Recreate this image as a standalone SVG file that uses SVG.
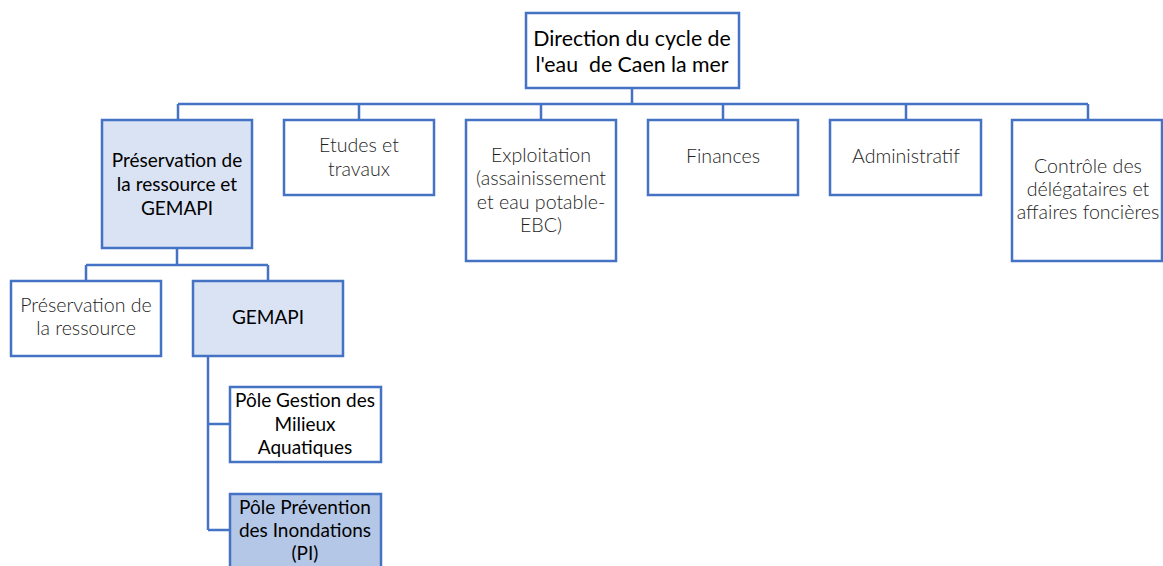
<svg xmlns="http://www.w3.org/2000/svg" width="1163" height="566" viewBox="0 0 1163 566">
<style>
.box{fill:#ffffff;stroke:#4472c4;stroke-width:2.5}
.lt{fill:#dae3f3}
.dk{fill:#b4c7e7}
.c{fill:none;stroke:#4472c4;stroke-width:2.5}
text{font-family:Lato,"Open Sans",sans-serif;text-anchor:middle;white-space:pre}
.t1{font-size:19px;fill:#000}
.t2{font-size:19.6px;fill:#1e1e1e;font-weight:300}
.t0{font-size:21.3px;fill:#000}
</style>
<rect width="1163" height="566" fill="#ffffff"/>
<g id="connectors">
<path class="c" d="M632,88V104M178,104H1088M178,104V120M359,104V120M541,104V120M723,104V120M906,104V120M1088,104V120"/>
<path class="c" d="M177,248V265M86,265H268M86,265V281M268,265V281"/>
<path class="c" d="M208,356V530M208,424H230M208,530H230"/>
</g>
<g id="n0"><rect class="box" x="526" y="13" width="213" height="75"/><text class="t0" x="632" y="46">Direction du cycle de</text><text class="t0" x="632" y="72" xml:space="preserve">l'eau  de Caen la mer</text></g>
<g id="n1"><rect class="box lt" x="102" y="120" width="150" height="128"/><text class="t1" x="177" y="167">Préservation de</text><text class="t1" x="177" y="191">la ressource et</text><text class="t1" x="177" y="215">GEMAPI</text></g>
<g id="n2"><rect class="box" x="284" y="120" width="150" height="75"/><text class="t2" x="359" y="152">Etudes et</text><text class="t2" x="359" y="176">travaux</text></g>
<g id="n3"><rect class="box" x="466" y="120" width="150" height="141"/><text class="t2" x="541" y="162">Exploitation</text><text class="t2" x="541" y="185">(assainissement</text><text class="t2" x="541" y="209">et eau potable-</text><text class="t2" x="541" y="232">EBC)</text></g>
<g id="n4"><rect class="box" x="648" y="120" width="150" height="75"/><text class="t2" x="723" y="163">Finances</text></g>
<g id="n5"><rect class="box" x="830" y="120" width="151" height="75"/><text class="t2" x="906" y="163">Administratif</text></g>
<g id="n6"><rect class="box" x="1012" y="120" width="150" height="141"/><text class="t2" x="1088" y="173">Contrôle des</text><text class="t2" x="1088" y="196">délégataires et</text><text class="t2" x="1088" y="219">affaires foncières</text></g>
<g id="n7"><rect class="box" x="11" y="281" width="150" height="75"/><text class="t2" x="86" y="312">Préservation de</text><text class="t2" x="86" y="335">la ressource</text></g>
<g id="n8"><rect class="box lt" x="193" y="281" width="150" height="75"/><text class="t1" x="268" y="324">GEMAPI</text></g>
<g id="n9"><rect class="box" x="230" y="387" width="151" height="75"/><text class="t1" x="305" y="407">Pôle Gestion des</text><text class="t1" x="305" y="431">Milieux</text><text class="t1" x="305" y="454">Aquatiques</text></g>
<g id="n10"><rect class="box dk" x="230" y="494" width="151" height="80"/><text class="t1" x="305" y="514">Pôle Prévention</text><text class="t1" x="305" y="537">des Inondations</text><text class="t1" x="305" y="560">(PI)</text></g>
</svg>
